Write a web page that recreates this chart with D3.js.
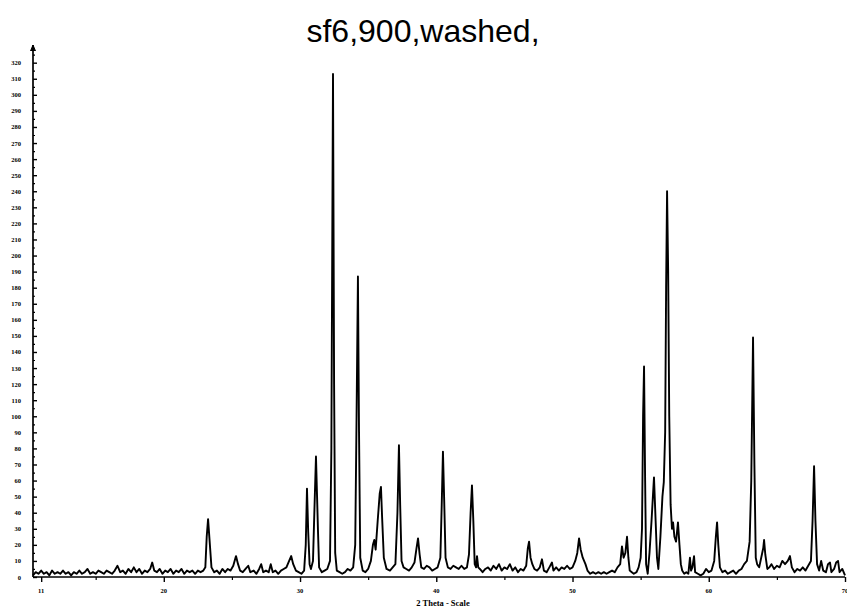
<!DOCTYPE html>
<html>
<head>
<meta charset="utf-8">
<script src="https://cdn.jsdelivr.net/npm/d3@7/dist/d3.min.js"></script>
<style>
	body { margin: 0; background: #fff; }
	svg { display: block; }
</style>
</head>
<body>
<div id="chart"></div>
<script>
const chartTitle = 'sf6,900,washed,';
const xTitle = '2 Theta - Scale';

// tick labels of the two axes
const xTickValues = [11, 20, 30, 40, 50, 60, 70];
const xMinorTicks = [15, 25, 35, 45, 55, 65];
const yTickValues = d3.range(0, 330, 10);

// [2-theta (deg), counts]
const pattern = [
	[10.4, 1], [10.6, 3], [10.8, 2], [11.0, 4], [11.2, 2], [11.4, 3], [11.6, 1], [11.8, 4],
	[12.0, 2], [12.2, 3], [12.4, 2], [12.6, 4], [12.8, 2], [13.0, 3], [13.2, 1], [13.4, 3],
	[13.6, 2], [13.8, 4], [14.0, 2], [14.2, 3], [14.4, 5], [14.6, 2], [14.8, 3], [15.0, 2],
	[15.2, 4], [15.4, 3], [15.6, 2], [15.8, 4], [16.0, 3], [16.2, 2], [16.4, 4], [16.6, 7],
	[16.8, 3], [17.0, 4], [17.2, 2], [17.4, 5], [17.6, 3], [17.8, 6], [18.0, 3], [18.2, 5],
	[18.4, 2], [18.6, 4], [18.8, 3], [19.0, 5], [19.15, 9], [19.3, 4], [19.5, 3], [19.7, 5],
	[19.9, 2], [20.1, 4], [20.3, 3], [20.5, 5], [20.7, 2], [20.9, 4], [21.1, 3], [21.3, 5],
	[21.5, 2], [21.7, 4], [21.9, 3], [22.1, 4], [22.3, 2], [22.5, 4], [22.7, 3], [22.9, 4],
	[23.05, 6], [23.15, 25], [23.25, 36], [23.35, 24], [23.5, 6], [23.7, 3], [23.9, 4], [24.1, 2],
	[24.3, 5], [24.5, 3], [24.7, 5], [24.9, 4], [25.1, 7], [25.3, 13], [25.45, 8], [25.6, 4],
	[25.8, 3], [26.0, 5], [26.2, 7], [26.35, 3], [26.6, 4], [26.8, 2], [27.0, 5], [27.15, 8],
	[27.3, 3], [27.5, 4], [27.7, 3], [27.85, 8], [28.0, 3], [28.2, 4], [28.4, 2], [28.6, 4],
	[28.8, 5], [29.0, 6], [29.2, 10], [29.35, 13], [29.5, 8], [29.7, 4], [29.9, 3], [30.1, 2],
	[30.3, 4], [30.42, 20], [30.51, 55], [30.6, 28], [30.7, 8], [30.8, 5], [30.95, 10], [31.05, 40],
	[31.17, 75], [31.25, 50], [31.32, 28], [31.4, 6], [31.6, 3], [31.8, 4], [32.0, 5], [32.2, 10],
	[32.3, 80], [32.42, 313], [32.5, 120], [32.58, 15], [32.7, 4], [32.9, 3], [33.1, 2], [33.3, 3],
	[33.5, 5], [33.7, 4], [33.9, 6], [34.05, 20], [34.15, 100], [34.25, 187], [34.33, 90], [34.42, 12],
	[34.6, 4], [34.8, 3], [35.0, 5], [35.2, 10], [35.35, 20], [35.45, 23], [35.55, 17], [35.7, 35],
	[35.85, 52], [35.94, 56], [36.02, 38], [36.15, 12], [36.35, 5], [36.6, 4], [36.8, 6], [37.0, 8],
	[37.15, 40], [37.26, 82], [37.35, 45], [37.45, 10], [37.6, 6], [37.8, 5], [38.0, 4], [38.2, 6],
	[38.4, 9], [38.55, 18], [38.66, 24], [38.78, 14], [38.9, 6], [39.1, 5], [39.3, 7], [39.5, 6],
	[39.7, 4], [39.9, 5], [40.1, 6], [40.3, 12], [40.4, 45], [40.49, 78], [40.58, 48], [40.68, 12],
	[40.85, 6], [41.05, 5], [41.25, 7], [41.45, 6], [41.65, 5], [41.85, 7], [42.05, 5], [42.25, 6],
	[42.4, 14], [42.52, 40], [42.62, 57], [42.72, 35], [42.82, 8], [42.92, 6], [42.99, 13], [43.08, 6],
	[43.2, 5], [43.4, 3], [43.6, 5], [43.8, 6], [44.0, 4], [44.2, 7], [44.4, 5], [44.6, 8],
	[44.8, 4], [45.0, 6], [45.2, 5], [45.4, 8], [45.6, 4], [45.8, 6], [46.0, 3], [46.2, 5],
	[46.4, 4], [46.6, 7], [46.72, 18], [46.81, 22], [46.92, 12], [47.05, 8], [47.2, 5], [47.4, 4],
	[47.6, 6], [47.76, 11], [47.9, 4], [48.1, 3], [48.3, 6], [48.49, 9], [48.6, 4], [48.8, 6],
	[49.0, 4], [49.2, 6], [49.4, 5], [49.6, 7], [49.8, 5], [50.0, 6], [50.2, 10], [50.35, 15],
	[50.48, 24], [50.6, 17], [50.75, 12], [50.95, 8], [51.1, 4], [51.3, 2], [51.5, 3], [51.7, 2],
	[51.9, 3], [52.1, 2], [52.3, 3], [52.5, 2], [52.7, 3], [52.9, 4], [53.1, 3], [53.3, 6],
	[53.5, 8], [53.63, 19], [53.75, 12], [53.88, 15], [54.0, 25], [54.1, 12], [54.2, 4], [54.35, 3],
	[54.5, 2], [54.7, 3], [54.85, 6], [55.0, 12], [55.1, 30], [55.18, 100], [55.25, 131], [55.33, 60],
	[55.4, 8], [55.52, 2], [55.65, 15], [55.8, 35], [55.98, 62], [56.1, 35], [56.2, 12], [56.3, 5],
	[56.45, 25], [56.6, 50], [56.7, 59], [56.8, 90], [56.87, 180], [56.94, 240], [57.02, 190], [57.1, 100],
	[57.2, 45], [57.3, 30], [57.38, 34], [57.48, 25], [57.6, 22], [57.74, 34], [57.85, 20], [57.95, 8],
	[58.05, 4], [58.2, 2], [58.35, 3], [58.5, 2], [58.62, 12], [58.7, 4], [58.8, 6], [58.92, 13],
	[59.0, 3], [59.2, 2], [59.4, 1], [59.6, 2], [59.8, 5], [60.0, 3], [60.2, 4], [60.4, 10],
	[60.52, 25], [60.61, 34], [60.7, 20], [60.82, 6], [61.0, 3], [61.2, 4], [61.4, 2], [61.6, 3],
	[61.8, 4], [62.0, 2], [62.2, 4], [62.4, 5], [62.6, 8], [62.8, 10], [63.0, 22], [63.12, 60],
	[63.25, 149], [63.35, 70], [63.45, 12], [63.55, 8], [63.7, 6], [63.85, 12], [64.0, 18], [64.06, 23],
	[64.15, 14], [64.3, 5], [64.45, 6], [64.6, 8], [64.8, 5], [65.0, 7], [65.2, 6], [65.4, 10],
	[65.6, 8], [65.8, 10], [65.96, 13], [66.1, 6], [66.3, 3], [66.5, 5], [66.7, 4], [66.9, 6],
	[67.1, 4], [67.3, 7], [67.5, 10], [67.62, 35], [67.73, 69], [67.83, 35], [67.95, 8], [68.1, 4],
	[68.25, 10], [68.4, 4], [68.6, 3], [68.75, 8], [68.9, 9], [69.0, 3], [69.2, 5], [69.35, 9],
	[69.49, 10], [69.6, 3], [69.8, 5], [70.0, 1]
];

const width = 847;
const height = 609;
const plotLeft = 33, plotRight = 845, plotTop = 45, plotBottom = 577;

const svg = d3.select('#chart').append('svg')
	.attr('width', width)
	.attr('height', height);

const x = d3.scaleLinear().domain([10.4, 70]).range([plotLeft, plotRight]);
const y = d3.scaleLinear().domain([0, 331]).range([plotBottom, plotTop]);

// title
svg.append('text')
	.attr('x', 423)
	.attr('y', 42)
	.attr('text-anchor', 'middle')
	.attr('font-family', 'Liberation Sans, Arial, sans-serif')
	.attr('font-size', 32)
	.attr('fill', '#000')
	.text(chartTitle);

// y axis, ticks pointing into the plot
svg.append('g')
	.attr('transform', `translate(${plotLeft},0)`)
	.call(d3.axisRight(y).tickValues(yTickValues).tickSize(4).tickFormat(''))
	.call(g => g.select('.domain').remove())
	.call(g => g.selectAll('line').attr('stroke', '#000').attr('stroke-width', 1.4));

svg.append('g')
	.attr('transform', `translate(${plotLeft},0)`)
	.call(d3.axisRight(y).tickValues(yTickValues.map(v => v + 5)).tickSize(2).tickFormat(''))
	.call(g => g.select('.domain').remove())
	.call(g => g.selectAll('line').attr('stroke', '#000').attr('stroke-width', 1.2));

svg.append('g')
	.selectAll('text')
	.data(yTickValues)
	.enter().append('text')
	.attr('x', 21)
	.attr('y', d => y(d) + 2.5)
	.attr('text-anchor', 'end')
	.attr('font-family', 'Liberation Serif, serif')
	.attr('font-weight', 'bold')
	.attr('font-size', 6.5)
	.attr('fill', '#000')
	.text(d => d);

svg.append('line')
	.attr('x1', plotLeft).attr('x2', plotLeft)
	.attr('y1', plotBottom).attr('y2', plotTop)
	.attr('stroke', '#000')
	.attr('stroke-width', 1.7);

// little arrow head on top of the y axis
svg.append('path')
	.attr('d', d3.line()([[plotLeft - 2.5, plotTop + 6], [plotLeft, plotTop], [plotLeft + 2.5, plotTop + 6]]))
	.attr('fill', '#000')
	.attr('stroke', '#000');

// x axis
svg.append('g')
	.attr('transform', `translate(0,${plotBottom})`)
	.call(d3.axisBottom(x).tickValues(xTickValues).tickSize(5).tickFormat(''))
	.call(g => g.select('.domain').remove())
	.call(g => g.selectAll('line').attr('stroke', '#000').attr('stroke-width', 1.4));

svg.append('g')
	.attr('transform', `translate(0,${plotBottom})`)
	.call(d3.axisBottom(x).tickValues(xMinorTicks).tickSize(3).tickFormat(''))
	.call(g => g.select('.domain').remove())
	.call(g => g.selectAll('line').attr('stroke', '#000').attr('stroke-width', 1.2));

svg.append('g')
	.selectAll('text')
	.data(xTickValues)
	.enter().append('text')
	.attr('x', d => x(d))
	.attr('y', 593)
	.attr('text-anchor', 'middle')
	.attr('font-family', 'Liberation Serif, serif')
	.attr('font-weight', 'bold')
	.attr('font-size', 6.5)
	.attr('fill', '#000')
	.text(d => d);

svg.append('line')
	.attr('x1', plotLeft).attr('x2', plotRight)
	.attr('y1', plotBottom).attr('y2', plotBottom)
	.attr('stroke', '#000')
	.attr('stroke-width', 1.7);

svg.append('text')
	.attr('x', 443)
	.attr('y', 606)
	.attr('text-anchor', 'middle')
	.attr('font-family', 'Liberation Serif, serif')
	.attr('font-weight', 'bold')
	.attr('font-size', 8.5)
	.attr('fill', '#000')
	.text(xTitle);

// diffraction pattern
const line = d3.line()
	.x(d => x(d[0]))
	.y(d => y(d[1]));

svg.append('path')
	.datum(pattern)
	.attr('d', line)
	.attr('fill', 'none')
	.attr('stroke', '#000')
	.attr('stroke-width', 1.9)
	.attr('stroke-linejoin', 'round');
</script>
</body>
</html>
